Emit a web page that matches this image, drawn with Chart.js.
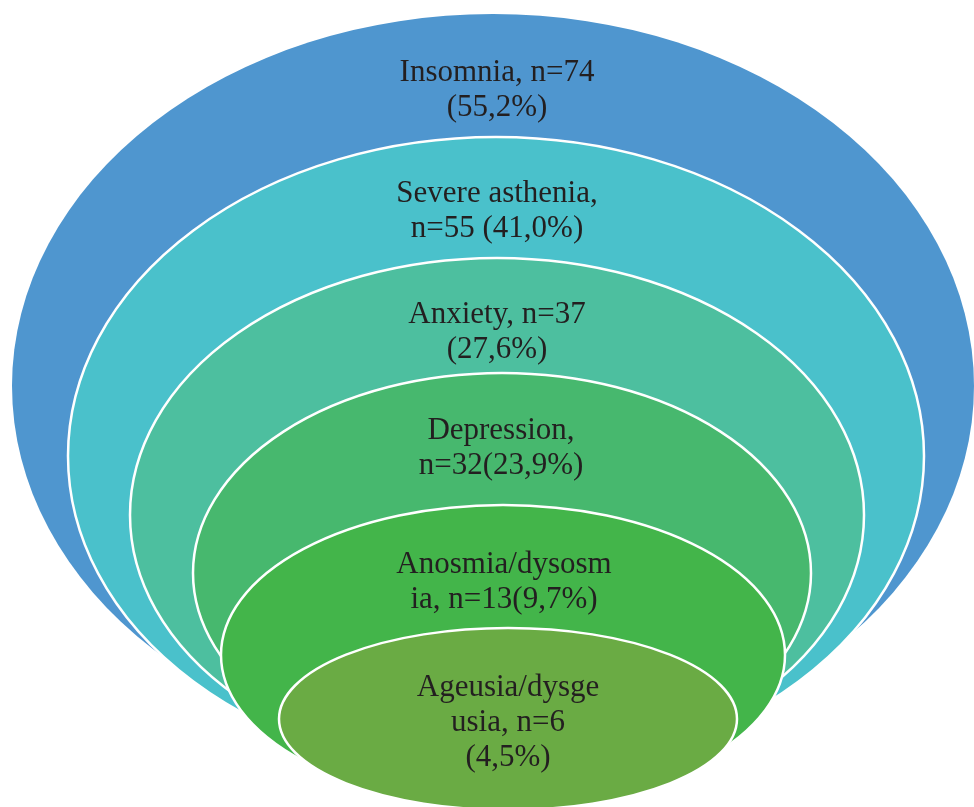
<!DOCTYPE html>
<html>
<head>
<meta charset="utf-8">
<script src="https://cdn.jsdelivr.net/npm/chart.js@4"></script>
<style>
  html, body { margin: 0; padding: 0; background: #fff; }
  #wrap { width: 974px; height: 807px; }
</style>
</head>
<body>
<div id="wrap"><canvas id="chart-rings" width="974" height="807"></canvas></div>
<script>
// data
var symptoms = ["Insomnia", "Severe asthenia", "Anxiety", "Depression", "Anosmia/dysosmia", "Ageusia/dysgeusia"];
var counts = [74, 55, 37, 32, 13, 6];
var percents = ["55,2", "41,0", "27,6", "23,9", "9,7", "4,5"];
// text as it is wrapped in the picture
var labelLines = [
    ["Insomnia, n=74", "(55,2%)"],
    ["Severe asthenia,", "n=55 (41,0%)"],
    ["Anxiety, n=37", "(27,6%)"],
    ["Depression,", "n=32(23,9%)"],
    ["Anosmia/dysosm", "ia, n=13(9,7%)"],
    ["Ageusia/dysge", "usia, n=6", "(4,5%)"]
];

// layout of the nested rings (scale units)
var ringCx = [493, 496, 497, 502, 503, 508];
var ringCy = [386, 456, 515, 573, 655, 719];
var ringRx = [481, 428, 367, 309, 282, 229];
var ringRy = [372, 319, 257, 200, 150, 91];
var ringColors = ["#4f96cf", "#4ac1cb", "#4dbf9f", "#47b86e", "#43b54a", "#6aab44"];
var textX = [497, 497, 497, 501, 504, 508];
var textY = [90, 211, 332, 448, 582, 723];

/* draws each point as an ellipse with its label */
var ringPlugin = {
    id: "rings",
    beforeDatasetsDraw: function(chart) {
        var ctx = chart.ctx;
        var xs = chart.scales.x, ys = chart.scales.y;
        var meta = chart.getDatasetMeta(0);
        ctx.save();
        meta.data.forEach(function(pt, i) {
            var rx = Math.abs(xs.getPixelForValue(ringRx[i]) - xs.getPixelForValue(0));
            var ry = Math.abs(ys.getPixelForValue(ringRy[i]) - ys.getPixelForValue(0));
            ctx.beginPath();
            ctx.ellipse(pt.x, pt.y, rx, ry, 0, 0, Math.PI * 2);
            ctx.fillStyle = ringColors[i];
            ctx.fill();
            if (i > 0) {
                ctx.lineWidth = 2.5;
                ctx.strokeStyle = "#ffffff";
                ctx.stroke();
            }
        });
        ctx.restore();
    },
    afterDatasetsDraw: function(chart) {
        var ctx = chart.ctx;
        var xs = chart.scales.x, ys = chart.scales.y;
        var meta = chart.getDatasetMeta(0);
        ctx.save();
        ctx.font = "31px 'Liberation Serif', 'Times New Roman', serif";
        ctx.fillStyle = "#231f20";
        ctx.textAlign = "center";
        ctx.textBaseline = "middle";
        meta.data.forEach(function(pt, i) {
            var lines = labelLines[i];
            var x = xs.getPixelForValue(textX[i]);
            var y0 = ys.getPixelForValue(textY[i]) - (lines.length - 1) * 35 / 2;
            lines.forEach(function(t, j) {
                ctx.fillText(t, x, y0 + j * 35);
            });
        });
        ctx.restore();
    }
};

var ctx = document.getElementById("chart-rings");
var myRings = new Chart(ctx, {
    type: "scatter",
    data: {
        labels: symptoms,
        datasets: [{
            label: "Symptoms",
            data: symptoms.map(function(s, i) {
                return { x: ringCx[i], y: ringCy[i], n: counts[i], pct: percents[i] };
            }),
            pointRadius: 0,
            pointHoverRadius: 0
        }]
    },
    options: {
        responsive: false,
        animation: false,
        layout: { padding: 0 },
        scales: {
            x: { type: "linear", min: 0, max: 974, display: false },
            y: { type: "linear", min: 0, max: 807, reverse: true, display: false }
        },
        plugins: {
            legend: { display: false },
            tooltip: { enabled: false }
        }
    },
    plugins: [ringPlugin]
});
</script>
</body>
</html>
